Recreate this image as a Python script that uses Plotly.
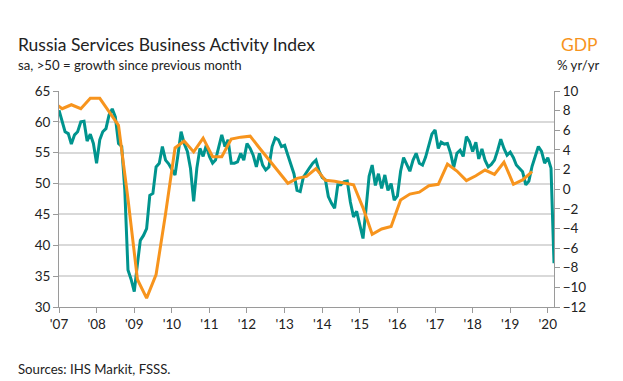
import plotly.graph_objects as go
import pandas as pd

# ---------------- data ----------------
pmi_start = "2007-01-01"
pmi_values = [
    61.9, 60.0, 58.4, 58.1, 56.4, 57.9, 58.4, 60.0, 60.1, 56.9, 58.0, 56.5,   # 2007
    53.3, 57.1, 58.4, 58.9, 61.1, 62.1, 60.8, 56.5, 56.0, 49.0, 36.0, 34.5,   # 2008
    32.5, 37.0, 40.8, 41.6, 42.7, 48.1, 48.4, 52.7, 53.3, 56.0, 53.8, 53.2,   # 2009
    52.2, 51.4, 54.6, 58.4, 56.5, 55.2, 52.5, 47.1, 52.5, 55.7, 54.4, 56.2,   # 2010
    54.4, 53.3, 53.8, 56.0, 57.9, 56.0, 57.1, 53.3, 53.3, 53.5, 54.9, 53.8,   # 2011
    56.5, 55.7, 54.6, 52.7, 54.9, 53.0, 52.2, 52.7, 56.0, 57.4, 57.1, 56.0,   # 2012
    56.2, 54.6, 53.3, 51.6, 48.9, 48.7, 51.0, 51.9, 52.6, 53.3, 53.8, 52.0,   # 2013
    51.0, 50.6, 47.9, 46.8, 46.0, 49.8, 49.8, 50.3, 50.4, 47.0, 44.6, 45.5,   # 2014
    43.5, 41.1, 45.7, 51.2, 53.0, 49.7, 51.6, 49.2, 51.4, 48.9, 50.0, 47.3,   # 2015
    48.0, 52.0, 54.2, 53.0, 52.0, 53.8, 54.9, 53.3, 53.0, 54.3, 56.3, 58.0,   # 2016
    58.7, 55.7, 56.7, 56.4, 56.5, 54.9, 52.6, 54.9, 55.4, 54.4, 57.6, 56.8,   # 2017
    55.2, 56.7, 54.0, 55.6, 53.8, 52.7, 53.1, 53.8, 55.4, 57.2, 55.7, 54.6,   # 2018
    55.1, 54.2, 53.0, 52.5, 51.9, 49.8, 50.4, 52.8, 54.6, 56.0, 55.2, 53.3,   # 2019
    54.2, 52.5, 37.1,                                                         # 2020
]
pmi_dates = pd.date_range(pmi_start, periods=len(pmi_values), freq="MS")

# GDP % y/y, quarterly (plotted at the middle month of each quarter)
gdp_start = "2006-11-01"
gdp_values = [
    8.9,                        # 2006 Q4
    8.2, 8.6, 8.2, 9.25,        # 2007
    9.25, 7.9, 6.5, -1.0,       # 2008
    -9.2, -11.1, -8.7, -2.5,    # 2009
    4.2, 4.9, 3.8, 5.2,         # 2010
    3.3, 3.3, 5.1, 5.3,         # 2011
    5.4, 4.2, 3.0, 1.8,         # 2012
    0.6, 1.1, 1.3, 2.1,         # 2013
    0.9, 0.8, 0.6, 0.45,        # 2014
    -1.9, -4.6, -4.05, -3.8,    # 2015
    -1.1, -0.5, -0.3, 0.36,     # 2016
    0.5, 2.55, 1.85, 0.87,      # 2017
    1.37, 1.95, 1.5, 2.74,      # 2018
    0.5, 0.94, 1.78,            # 2019
]
gdp_dates = pd.date_range(gdp_start, periods=len(gdp_values), freq="3MS")

year_ticks = [f"{y}-01-01" for y in range(2007, 2021)]
year_labels = [f"'{str(y)[2:]}" for y in range(2007, 2021)]

left_ticks = [30, 35, 40, 45, 50, 55, 60, 65]
right_ticks = list(range(-12, 11, 2))

# ---------------- styling ----------------
TEAL = "#00948e"
ORANGE = "#f7941d"
TEXT = "#222222"
AXIS = "#9a9a9a"
GRID = "#d9d9d9"
FONT = "Lato"

# the page body has an 8px margin, so the figure starts at (8, 8)
OFF = 8
W, H = 623 - OFF, 381 - OFF
# target plot area in window pixels: x 59..554, y 91..307
PL, PR, PT, PB = 59, 554, 91, 307
L, R, T, B = PL - OFF, W - (PR - OFF), PT - OFF, H - (PB - OFF)
pw, ph = PR - PL, PB - PT


def px(x):
    return (x - PL) / pw


def py(y):
    return (PB - y) / ph


fig = go.Figure()
fig.add_trace(go.Scatter(x=gdp_dates, y=gdp_values, yaxis="y2", mode="lines",
                         line=dict(color=ORANGE, width=3), name="GDP",
                         hoverinfo="skip"))
fig.add_trace(go.Scatter(x=pmi_dates, y=pmi_values, mode="lines",
                         line=dict(color=TEAL, width=3), name="PMI",
                         hoverinfo="skip"))

fig.update_layout(
    width=W, height=H,
    margin=dict(l=L, r=R, t=T, b=B),
    paper_bgcolor="white", plot_bgcolor="white",
    showlegend=False,
    font=dict(family=FONT, size=13, color=TEXT),
    xaxis=dict(
        type="date", range=["2007-01-01", "2020-03-01"],
        tickmode="array", tickvals=year_ticks, ticktext=year_labels,
        ticks="outside", ticklen=5, tickcolor=AXIS, tickwidth=1,
        showline=True, linecolor=AXIS, linewidth=1,
        showgrid=False, zeroline=False,
        tickfont=dict(size=13.5, color=TEXT),
    ),
    yaxis=dict(
        range=[30, 65], tickmode="array", tickvals=left_ticks,
        ticks="outside", ticklen=5, tickcolor=AXIS,
        showline=True, linecolor=AXIS, linewidth=1,
        showgrid=True, gridcolor=GRID, gridwidth=1.5, zeroline=False,
        tickfont=dict(size=13.5, color=TEXT),
    ),
    yaxis2=dict(
        range=[-12, 10], tickmode="array", tickvals=right_ticks,
        overlaying="y", side="right",
        ticks="outside", ticklen=5, tickcolor=AXIS,
        showline=True, linecolor=AXIS, linewidth=1,
        showgrid=False, zeroline=False,
        tickfont=dict(size=13.5, color=TEXT),
    ),
)

annotations = [
    dict(text="Russia Services Business Activity Index", x=px(16), y=py(44),
         xanchor="left", yanchor="middle", font=dict(size=17.5, color=TEXT)),
    dict(text="sa, >50 = growth since previous month", x=px(16), y=py(65),
         xanchor="left", yanchor="middle", font=dict(size=13.2, color=TEXT)),
    dict(text="GDP", x=px(600), y=py(44),
         xanchor="right", yanchor="middle", font=dict(size=17.5, color=ORANGE)),
    dict(text="% yr/yr", x=px(601), y=py(65),
         xanchor="right", yanchor="middle", font=dict(size=13.2, color=TEXT)),
    dict(text="Sources: IHS Markit, FSSS.", x=px(16), y=py(369),
         xanchor="left", yanchor="middle", font=dict(size=13.2, color=TEXT)),
]
for a in annotations:
    a.update(xref="paper", yref="paper", showarrow=False)
fig.update_layout(annotations=annotations)

fig.write_html("out.html")
